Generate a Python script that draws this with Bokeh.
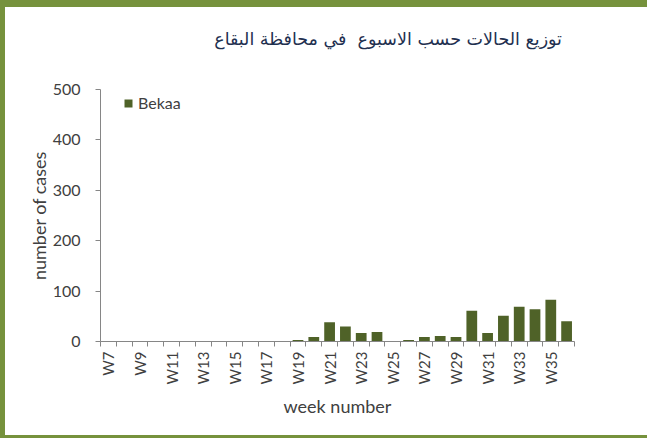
import math
from bokeh.plotting import figure
from bokeh.layouts import column
from bokeh.models import ColumnDataSource, FixedTicker, Range1d, Div
from bokeh.embed import file_html
from bokeh.resources import INLINE

# ---- data ----
weeks = ["W7", "W8", "W9", "W10", "W11", "W12", "W13", "W14", "W15", "W16",
         "W17", "W18", "W19", "W20", "W21", "W22", "W23", "W24", "W25", "W26",
         "W27", "W28", "W29", "W30", "W31", "W32", "W33", "W34", "W35", "W36"]
week_numbers = [7, 8, 9, 10, 11, 12, 13, 14, 15, 16,
                17, 18, 19, 20, 21, 22, 23, 24, 25, 26,
                27, 28, 29, 30, 31, 32, 33, 34, 35, 36]
cases = [0, 0, 0, 0, 0, 0, 0, 0, 0, 0,
         0, 0, 3, 9, 38, 30, 17, 19, 0, 3,
         9, 11, 9, 61, 17, 51, 69, 64, 83, 40]
series_name = "Bekaa"
y_ticks = [0, 100, 200, 300, 400, 500]
title_text = "توزيع الحالات حسب الاسبوع  في محافظة البقاع"
x_title = "week number"
y_title = "number of cases"

FRAME_GREEN = "#76923C"
BAR = "#4F6228"
TXT = "#404040"
AX = "#868686"

src = ColumnDataSource(dict(week=week_numbers, cases=cases, label=weeks))

# title block
title_div = Div(text=title_text, width=642, height=63, margin=(7, 0, 0, 5),
                styles={"background-color": "white", "box-sizing": "border-box",
                        "padding-top": "20px", "padding-right": "85px",
                        "text-align": "right", "direction": "rtl",
                        "font-family": "DejaVu Sans", "font-size": "17.5px",
                        "color": "#1F3050", "white-space": "pre"})

p = figure(width=642, height=365, output_backend="svg", toolbar_location=None,
           x_range=Range1d(week_numbers[0] - 0.5, week_numbers[-1] + 0.5),
           y_range=Range1d(y_ticks[0], y_ticks[-1]),
           min_border_left=95, min_border_right=73,
           min_border_top=19, min_border_bottom=94)
p.margin = (0, 0, 3, 5)
p.styles = {"background-color": "white"}
p.background_fill_color = "white"
p.border_fill_color = "white"
p.outline_line_color = None
p.xgrid.visible = False
p.ygrid.visible = False

p.vbar(x="week", top="cases", width=0.68, source=src,
       fill_color=BAR, line_color=None, legend_label=series_name)

# y axis
ya = p.yaxis[0]
ya.ticker = FixedTicker(ticks=y_ticks)
ya.major_tick_out = 5
ya.major_tick_in = 0
ya.minor_tick_out = 0
ya.minor_tick_in = 0
ya.axis_line_color = AX
ya.major_tick_line_color = AX
ya.major_label_text_font = "Lato"
ya.major_label_text_font_size = "16px"
ya.major_label_text_color = TXT
ya.major_label_standoff = 15
ya.axis_label = y_title
ya.axis_label_text_font = "Lato"
ya.axis_label_text_font_style = "normal"
ya.axis_label_text_font_size = "18px"
ya.axis_label_text_color = TXT
ya.axis_label_standoff = 0

# x axis
xa = p.xaxis[0]
xa.ticker = FixedTicker(ticks=week_numbers[::2],
                        minor_ticks=[w - 0.5 for w in week_numbers] + [week_numbers[-1] + 0.5])
xa.major_label_overrides = {w: lab for w, lab in zip(week_numbers, weeks)}
xa.major_label_orientation = math.pi / 2
xa.major_tick_out = 0
xa.major_tick_in = 0
xa.minor_tick_out = 5
xa.minor_tick_in = 0
xa.axis_line_color = AX
xa.minor_tick_line_color = AX
xa.major_label_text_font = "Lato"
xa.major_label_text_font_size = "15px"
xa.major_label_text_color = TXT
xa.major_label_standoff = 5
xa.axis_label = x_title
xa.axis_label_text_font = "Lato"
xa.axis_label_text_font_style = "normal"
xa.axis_label_text_font_size = "18px"
xa.axis_label_text_color = TXT
xa.axis_label_standoff = 8

# legend
lg = p.legend[0]
lg.location = (23, 229)
lg.padding = 0
lg.margin = 0
lg.border_line_color = None
lg.background_fill_alpha = 0
lg.glyph_width = 10
lg.glyph_height = 10
lg.label_standoff = 5
lg.label_text_font = "Lato"
lg.label_text_font_size = "16px"
lg.label_text_color = TXT

page = column(title_div, p, background=FRAME_GREEN, spacing=0)

open("out.html", "w").write(file_html(page, INLINE))
